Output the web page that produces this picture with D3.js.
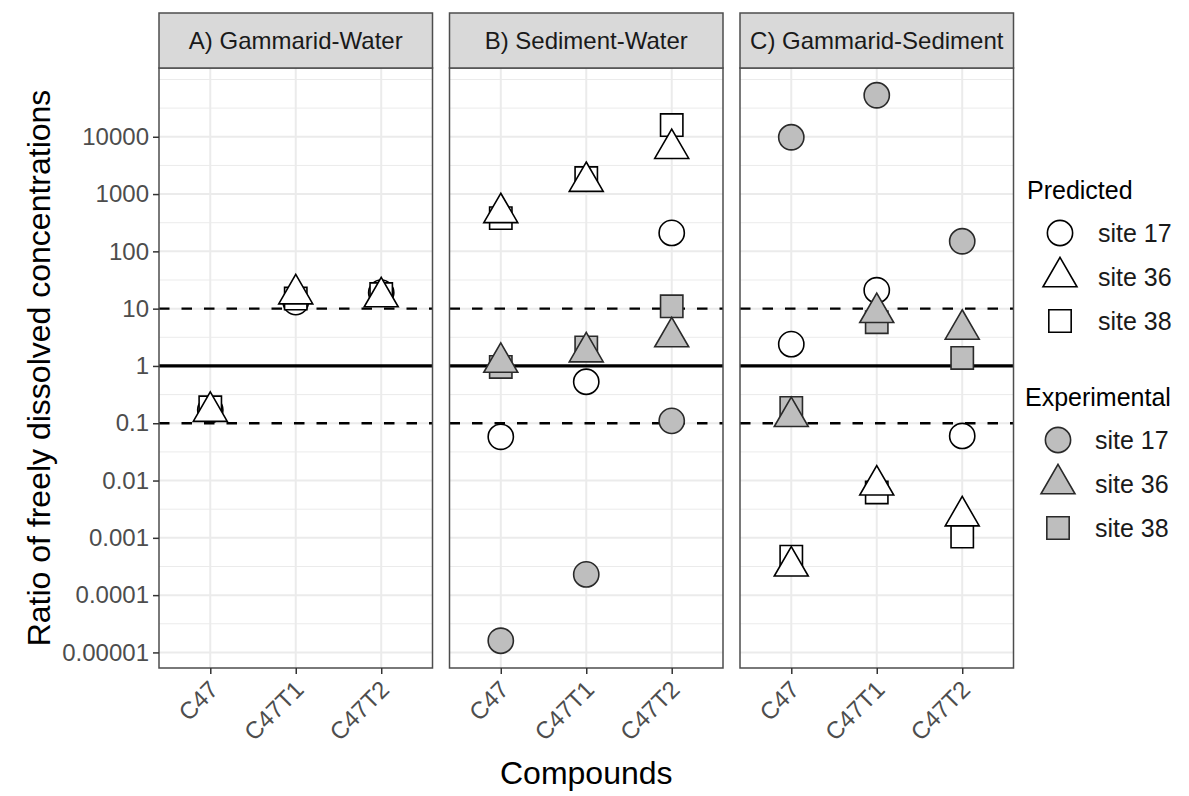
<!DOCTYPE html>
<html>
<head>
<meta charset="utf-8">
<script src="https://cdn.jsdelivr.net/npm/d3@7"></script>
<style>
  html, body { margin: 0; padding: 0; background: #ffffff; }
  svg { display: block; font-family: "Liberation Sans", Arial, sans-serif; }
</style>
</head>
<body>
<svg id="chart" width="1189" height="796"></svg>
<script>
// ---- data -------------------------------------------------------------
const panels = ["A) Gammarid-Water", "B) Sediment-Water", "C) Gammarid-Sediment"];
const compounds = ["C47", "C47T1", "C47T2"];
const sites = ["site 17", "site 36", "site 38"];
const yTickValues = [1e4, 1e3, 1e2, 10, 1, 0.1, 0.01, 0.001, 0.0001, 0.00001];
const yTickLabels = ["10000", "1000", "100", "10", "1", "0.1", "0.01", "0.001", "0.0001", "0.00001"];
const refSolid = [1];
const refDashed = [10, 0.1];

// predicted ratios, one row per site (C47, C47T1, C47T2)
const predA = [[0.17, 13, 19], [0.16, 18, 16], [0.19, 15, 18]];
const predB = [[0.058, 0.53, 210], [470, 1650, 6200], [380, 1900, 16000]];
const predC = [[2.4, 21, 0.06], [0.00032, 0.0083, 0.0024], [0.00047, 0.0062, 0.00105]];
// experimental ratios (none for panel A)
const expA = null;
const expB = [[0.000016, 0.00023, 0.11], [1.15, 1.75, 3.2], [0.96, 2.1, 11]];
const expC = [[9800, 53000, 150], [0.13, 8.5, 4.35], [0.185, 5.8, 1.38]];

const predicted = [predA, predB, predC];
const experimental = [expA, expB, expC];
const typeNames = ["Predicted", "Experimental"];

// ---- layout -----------------------------------------------------------
const svg = d3.select("#chart");
const panelLeft = 159, panelW = 273.5, panelGap = 17;
const stripTop = 13, stripH = 55;
const plotTop = stripTop + stripH, plotBottom = 668;
const tickFont = 24;

const symbolTypes = [d3.symbolCircle, d3.symbolTriangle, d3.symbolSquare];
const symSize = 500;
const fills = ["#ffffff", "#bebebe"];

// flatten to records
const records = [];
panels.forEach((p, pi) => {
  [predicted[pi], experimental[pi]].forEach((tbl, ti) => {
    if (!tbl) return;
    tbl.forEach((row, si) => row.forEach((v, ci) => {
      records.push({ panel: pi, type: ti, site: si, compound: compounds[ci], value: v });
    }));
  });
});

// log scale with 5% expansion of the data range (in log space)
const logs = records.map(d => Math.log10(d.value));
const lo = d3.min(logs), hi = d3.max(logs), pad = (hi - lo) * 0.05;
const y = d3.scaleLog().domain([10 ** (lo - pad), 10 ** (hi + pad)]).range([plotBottom, plotTop]);

// minor grid at half decades
const minorVals = d3.range(-10, 11).map(k => k / 2).filter(k => !Number.isInteger(k) || k > 4 || k < -5)
  .map(k => 10 ** k).filter(v => v >= y.domain()[0] && v <= y.domain()[1]);

const drawOrder = [0, 2, 1]; // circles, squares, then triangles on top

panels.forEach((title, pi) => {
  const x0 = panelLeft + pi * (panelW + panelGap);
  const x = d3.scalePoint().domain(compounds).range([x0, x0 + panelW]).padding(0.6);
  const g = svg.append("g");

  g.append("rect").attr("x", x0).attr("y", plotTop).attr("width", panelW)
    .attr("height", plotBottom - plotTop).attr("fill", "#ffffff");

  // grid
  g.selectAll(".minor").data(minorVals).join("line")
    .attr("x1", x0).attr("x2", x0 + panelW).attr("y1", d => y(d)).attr("y2", d => y(d))
    .attr("stroke", "#ebebeb").attr("stroke-width", 1);
  g.selectAll(".majorY").data(yTickValues).join("line")
    .attr("x1", x0).attr("x2", x0 + panelW).attr("y1", d => y(d)).attr("y2", d => y(d))
    .attr("stroke", "#ebebeb").attr("stroke-width", 2);
  g.selectAll(".majorX").data(compounds).join("line")
    .attr("x1", d => x(d)).attr("x2", d => x(d)).attr("y1", plotTop).attr("y2", plotBottom)
    .attr("stroke", "#ebebeb").attr("stroke-width", 2);

  // reference lines
  g.selectAll(".dash").data(refDashed).join("line")
    .attr("x1", x0).attr("x2", x0 + panelW).attr("y1", d => y(d)).attr("y2", d => y(d))
    .attr("stroke", "#000").attr("stroke-width", 2.4).attr("stroke-dasharray", "10.5,12");
  g.selectAll(".solid").data(refSolid).join("line")
    .attr("x1", x0).attr("x2", x0 + panelW).attr("y1", d => y(d)).attr("y2", d => y(d))
    .attr("stroke", "#000").attr("stroke-width", 3.2);

  // points
  const pts = records.filter(d => d.panel === pi)
    .sort((a, b) => d3.ascending(drawOrder.indexOf(a.site), drawOrder.indexOf(b.site)) || d3.ascending(a.type, b.type));
  g.selectAll(".pt").data(pts).join("path")
    .attr("transform", d => `translate(${x(d.compound)},${y(d.value)})`)
    .attr("d", d => d3.symbol().type(symbolTypes[d.site]).size(symSize)())
    .attr("fill", d => fills[d.type])
    .attr("stroke", d => d.type ? "#2a2a2a" : "#000")
    .attr("stroke-width", 1.6);

  // border
  g.append("rect").attr("x", x0).attr("y", plotTop).attr("width", panelW)
    .attr("height", plotBottom - plotTop).attr("fill", "none").attr("stroke", "#4d4d4d").attr("stroke-width", 1.5);

  // strip
  g.append("rect").attr("x", x0).attr("y", stripTop).attr("width", panelW).attr("height", stripH)
    .attr("fill", "#d9d9d9").attr("stroke", "#4d4d4d").attr("stroke-width", 1.5);
  g.append("text").attr("x", x0 + panelW / 2).attr("y", stripTop + stripH / 2)
    .attr("dy", "0.36em").attr("text-anchor", "middle").attr("font-size", 24).attr("fill", "#1a1a1a")
    .text(title);

  // x axis
  const xa = g.append("g").attr("transform", `translate(0,${plotBottom})`)
    .call(d3.axisBottom(x).tickSize(6).tickSizeOuter(0));
  xa.select(".domain").remove();
  xa.selectAll(".tick line").attr("stroke", "#333").attr("stroke-width", 1.5);
  xa.selectAll(".tick text")
    .attr("font-size", tickFont).attr("fill", "#4d4d4d").attr("font-family", "Liberation Sans, Arial, sans-serif")
    .attr("text-anchor", "end").attr("y", 0).attr("dy", 0)
    .attr("transform", "translate(9,23) rotate(-45)");

  // y axis on the first panel
  if (pi === 0) {
    const ya = g.append("g").attr("transform", `translate(${x0},0)`)
      .call(d3.axisLeft(y).tickValues(yTickValues).tickFormat((d, i) => yTickLabels[i]).tickSize(6));
    ya.select(".domain").remove();
    ya.selectAll(".tick line").attr("stroke", "#333").attr("stroke-width", 1.5);
    ya.selectAll(".tick text").attr("font-size", tickFont).attr("fill", "#4d4d4d")
      .attr("font-family", "Liberation Sans, Arial, sans-serif").attr("x", -10);
  }
});

// axis titles
svg.append("text").attr("x", panelLeft + (3 * panelW + 2 * panelGap) / 2).attr("y", 784)
  .attr("text-anchor", "middle").attr("font-size", 32).attr("fill", "#000").text("Compounds");
svg.append("text").attr("transform", `translate(38,${(plotTop + plotBottom) / 2}) rotate(-90)`)
  .attr("dy", "0.36em").attr("text-anchor", "middle").attr("font-size", 32).attr("fill", "#000")
  .text("Ratio of freely dissolved concentrations");

// legends
const legendX = [1027, 1025], legendTop = [190, 397], keyX = [1060, 1058], labelX = [1098, 1095];
typeNames.forEach((name, ti) => {
  const lg = svg.append("g");
  lg.append("text").attr("x", legendX[ti]).attr("y", legendTop[ti]).attr("dy", "0.36em")
    .attr("font-size", 25).attr("fill", "#000").text(name);
  sites.forEach((s, si) => {
    const cy = legendTop[ti] + 43 + si * 44;
    lg.append("path").attr("transform", `translate(${keyX[ti]},${cy})`)
      .attr("d", d3.symbol().type(symbolTypes[si]).size(symSize)())
      .attr("fill", fills[ti]).attr("stroke", ti ? "#2a2a2a" : "#000").attr("stroke-width", 1.6);
    lg.append("text").attr("x", labelX[ti]).attr("y", cy).attr("dy", "0.36em")
      .attr("font-size", 25).attr("fill", "#1a1a1a").text(s);
  });
});
</script>
</body>
</html>
